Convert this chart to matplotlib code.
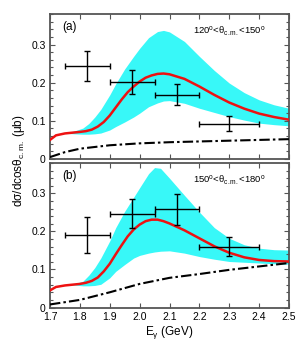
import matplotlib
matplotlib.use("Agg")
import matplotlib.pyplot as plt
from matplotlib.ticker import MultipleLocator

plt.rcParams['font.family'] = ['Liberation Sans', 'DejaVu Sans']
plt.rcParams['mathtext.fontset'] = 'custom'
plt.rcParams['mathtext.rm'] = 'Liberation Sans'
plt.rcParams['mathtext.it'] = 'Liberation Sans'
plt.rcParams['mathtext.sf'] = 'Liberation Sans'

# ---------------- data ----------------
# panel (a): 120 < theta < 150
a_data_E = [1.825, 1.975, 2.125, 2.30]
a_data_Eerr = [0.075, 0.075, 0.075, 0.10]
a_data_y = [0.243, 0.202, 0.169, 0.093]
a_data_yerr = [0.039, 0.032, 0.027, 0.020]

a_red_E = [1.70, 1.72, 1.75, 1.80, 1.82, 1.84, 1.86, 1.88, 1.90, 1.92, 1.94, 1.96, 1.98,
           2.00, 2.02, 2.04, 2.06, 2.08, 2.10, 2.15, 2.20, 2.25, 2.30, 2.35, 2.40, 2.45, 2.50]
a_red_y = [0.050, 0.062, 0.067, 0.071, 0.073, 0.077, 0.085, 0.097, 0.114, 0.135, 0.156, 0.175, 0.190,
           0.203, 0.213, 0.219, 0.223, 0.224, 0.222, 0.210, 0.190, 0.168, 0.148, 0.132, 0.119, 0.110, 0.103]

a_band_E = [1.74, 1.78, 1.81, 1.83, 1.85, 1.87, 1.90, 1.92, 1.95, 1.98, 2.00, 2.03, 2.06, 2.08, 2.10,
            2.15, 2.20, 2.25, 2.30, 2.35, 2.40, 2.45, 2.50]
a_band_hi = [0.068, 0.073, 0.081, 0.093, 0.110, 0.130, 0.168, 0.197, 0.236, 0.269, 0.290, 0.318, 0.334,
             0.337, 0.333, 0.308, 0.269, 0.232, 0.199, 0.174, 0.155, 0.142, 0.133]
a_band_lo = [0.068, 0.066, 0.065, 0.065, 0.066, 0.068, 0.076, 0.085, 0.097, 0.110, 0.120, 0.137, 0.147,
             0.152, 0.153, 0.146, 0.133, 0.122, 0.111, 0.102, 0.094, 0.090, 0.087]

a_bg_E = [1.70, 1.75, 1.80, 1.90, 2.00, 2.10, 2.20, 2.30, 2.40, 2.50]
a_bg_y = [0.005, 0.018, 0.027, 0.036, 0.041, 0.044, 0.046, 0.048, 0.050, 0.052]

# panel (b): 150 < theta < 180
b_data_E = [1.825, 1.975, 2.125, 2.30]
b_data_Eerr = [0.075, 0.075, 0.075, 0.10]
b_data_y = [0.191, 0.247, 0.258, 0.160]
b_data_yerr = [0.048, 0.038, 0.040, 0.025]

b_red_E = [1.70, 1.72, 1.75, 1.80, 1.82, 1.84, 1.86, 1.88, 1.90, 1.92, 1.94, 1.96, 1.98,
           2.00, 2.02, 2.04, 2.06, 2.08, 2.10, 2.15, 2.20, 2.25, 2.30, 2.35, 2.40, 2.45, 2.50]
b_red_y = [0.045, 0.054, 0.058, 0.062, 0.065, 0.070, 0.079, 0.095, 0.115, 0.140, 0.164, 0.187, 0.205,
           0.218, 0.227, 0.231, 0.231, 0.227, 0.221, 0.203, 0.182, 0.161, 0.144, 0.132, 0.125, 0.122, 0.121]

b_band_E = [1.77, 1.81, 1.83, 1.85, 1.87, 1.90, 1.92, 1.95, 1.98, 2.00, 2.03, 2.05, 2.07, 2.10, 2.15,
            2.20, 2.25, 2.30, 2.35, 2.40, 2.45, 2.50]
b_band_hi = [0.060, 0.069, 0.085, 0.105, 0.130, 0.175, 0.210, 0.253, 0.290, 0.315, 0.352, 0.368, 0.366,
             0.340, 0.295, 0.251, 0.210, 0.182, 0.165, 0.156, 0.152, 0.151]
b_band_lo = [0.060, 0.057, 0.057, 0.058, 0.061, 0.078, 0.095, 0.113, 0.130, 0.137, 0.143, 0.146, 0.148,
             0.149, 0.143, 0.134, 0.127, 0.121, 0.119, 0.117, 0.115, 0.114]

b_bg_E = [1.70, 1.80, 1.90, 2.00, 2.10, 2.20, 2.30, 2.40, 2.50]
b_bg_y = [0.008, 0.020, 0.040, 0.062, 0.078, 0.088, 0.099, 0.108, 0.117]

x_ticks = [1.7, 1.8, 1.9, 2.0, 2.1, 2.2, 2.3, 2.4, 2.5]
x_labels = ['1.7', '1.8', '1.9', '2.0', '2.1', '2.2', '2.3', '2.4', '2.5']
y_ticks = [0, 0.1, 0.2, 0.3]
y_labels = ['0', '0.1', '0.2', '0.3']

panels = [
    ("(a)", r"120$^{\rm o}$<$\theta_{\rm c.m.}$<150$^{\rm o}$",
     a_data_E, a_data_Eerr, a_data_y, a_data_yerr, a_red_E, a_red_y,
     a_band_E, a_band_hi, a_band_lo, a_bg_E, a_bg_y),
    ("(b)", r"150$^{\rm o}$<$\theta_{\rm c.m.}$<180$^{\rm o}$",
     b_data_E, b_data_Eerr, b_data_y, b_data_yerr, b_red_E, b_red_y,
     b_band_E, b_band_hi, b_band_lo, b_bg_E, b_bg_y),
]

fig = plt.figure(figsize=(3.0, 3.5), dpi=100)
L, R = 50 / 300, 289 / 300
rects = [(L, 1 - 159 / 350, R - L, (159 - 14) / 350),
         (L, 1 - 307.5 / 350, R - L, (307.5 - 163) / 350)]

spine_col = '#555555'
for i, (lab, ang, dE, dEe, dy, dye, rE, ry, bE, bhi, blo, gE, gy) in enumerate(panels):
    ax = fig.add_axes(rects[i])
    ax.fill_between(bE, blo, bhi, color='#38f8f8', lw=0, zorder=1)
    ax.plot(rE, ry, color='#ee1111', lw=1.8, zorder=3)
    ax.plot(gE, gy, color='black', lw=1.5, dashes=(5, 1.5, 1.2, 1.5), zorder=3)
    ax.errorbar(dE, dy, xerr=dEe, yerr=dye, fmt='none', ecolor='black',
                elinewidth=1.0, capsize=2.2, capthick=1.0, zorder=4)
    ax.set_xlim(1.7, 2.5)
    ax.set_ylim(0, 0.38)
    ax.set_yticks(y_ticks)
    ax.yaxis.set_minor_locator(MultipleLocator(0.02))
    ax.set_yticklabels(y_labels)
    ax.set_xticks(x_ticks)
    if i == 1:
        ax.set_xticklabels(x_labels)
        ax.set_xlabel(r"E$_\gamma$ (GeV)", fontsize=8.5, labelpad=2)
    else:
        ax.set_xticklabels([])
    ax.tick_params(which='both', direction='in', top=True, right=True,
                   labelsize=7.5, color=spine_col, pad=3)
    ax.tick_params(which='major', length=3.5, width=0.8)
    ax.tick_params(which='minor', length=2, width=0.8)
    for s in ax.spines.values():
        s.set_color(spine_col)
        s.set_linewidth(1.3)
    ax.text(0.05, 0.955, lab, transform=ax.transAxes, ha='left', va='top', fontsize=8.5)
    ax.text(0.60, 0.88, ang, transform=ax.transAxes, ha='left', va='center', fontsize=6.8)

fig.text(0.065, (1 - 159 / 350 + 1 - 163 / 350) / 2,
         r"d$\sigma$/dcos$\theta_{\rm c.m.}$ ($\mu$b)", rotation=90,
         ha='center', va='center', fontsize=8.5)

fig.savefig("out.png", dpi=100)
